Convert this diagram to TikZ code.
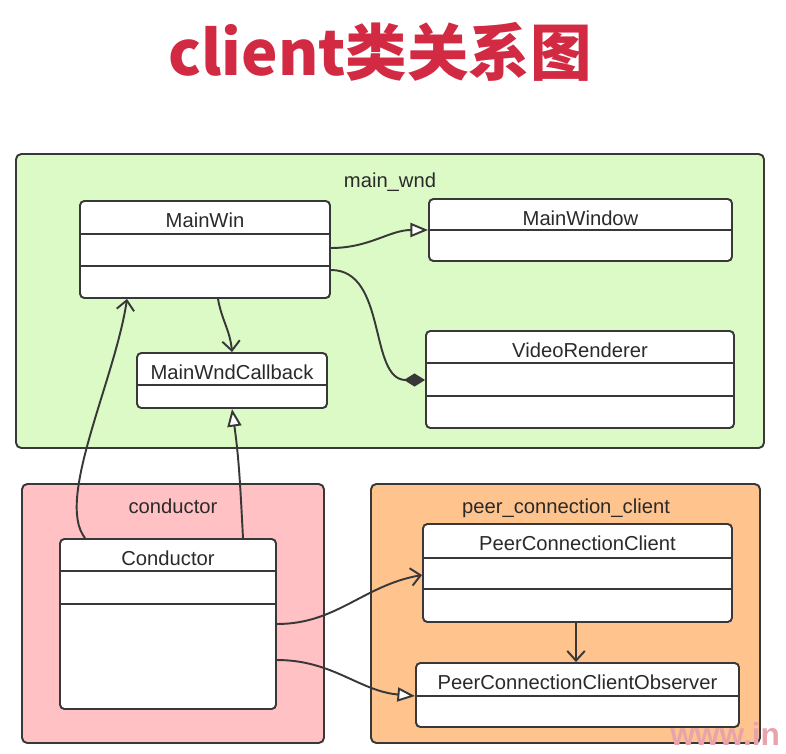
\documentclass[tikz,border=0pt]{standalone}
\usepackage{fontspec}
\setmainfont{Liberation Sans}
\newfontfamily\cjkfont{Noto Sans CJK SC}
\usetikzlibrary{arrows.meta, fit, positioning}

\definecolor{lineGray}{HTML}{383838}
\definecolor{textGray}{HTML}{2A2A2A}
\definecolor{wndGreen}{HTML}{DBFAC6}
\definecolor{condPink}{HTML}{FFC1C4}
\definecolor{peerOrange}{HTML}{FFC38E}
\definecolor{titleRed}{HTML}{D22A42}
\definecolor{markPink}{HTML}{E9A3AC}

\tikzset{
  grpbox/.style={draw=lineGray, line width=1.1pt, rounded corners=3pt, inner sep=0pt},
  classbox/.style={draw=lineGray, fill=white, line width=1.1pt, rounded corners=2.5pt, inner sep=0pt},
  divider/.style={draw=lineGray, line width=1.1pt},
  lbl/.style={text=textGray, anchor=base, inner sep=0pt, font=\fontsize{11.5}{14}\selectfont},
  conn/.style={draw=lineGray, line width=1.1pt},
  realize/.style={conn, -{Triangle[fill=white, length=10pt, width=8pt]}},
  assoc/.style={conn, -{Straight Barb[length=5.5pt, width=10pt]}},
  compose/.style={conn, -{Diamond[length=12pt, width=7.5pt]}},
}

\begin{document}
\begin{tikzpicture}[x=0.02cm, y=-0.02cm]
    \useasboundingbox (0,0) rectangle (786,753);
    \node[text=titleRed, font=\cjkfont\bfseries\fontsize{35}{40}\selectfont] (title) at (380,52) {client类关系图};
    \foreach \nm/\col/\xa/\ya/\xb/\yb in
    {MainWnd/wndGreen/16/154/764/448,
        Conductor/condPink/22/484/324/743,
        PeerClient/peerOrange/371/484/760/743
    }
    {
        \node[grpbox, fill=\col, fit={(\xa,\ya) (\xb,\yb)}] (g\nm) {};
    };
    \node[lbl] (lMainWnd) at (390,187) {main\_wnd};
    \node[lbl] (lConductor) at (173,513) {conductor};
    \node[lbl] (lPeerClient) at (566,513) {peer\_connection\_client};
    \foreach \nm/\xa/\ya/\xb/\yb in
    {MainWin/80/201/330/298,
        MainWindow/429/199/732/261,
        VideoRenderer/426/331/734/428,
        MainWndCallback/137/353/327/408,
        Conductor/60/539/276/709,
        PeerConnectionClient/423/524/732/622,
        PeerConnectionClientObserver/416/663/739/727
    }
    {
        \node[classbox, fit={(\xa,\ya) (\xb,\yb)}] (c\nm) {};
        \node[lbl] (t\nm) at ({(\xa+\xb)/2},\ya+26) {\nm};
    };
    \foreach \nm/\yy in
    {MainWin/234, MainWin/266, MainWindow/230,
        VideoRenderer/363, VideoRenderer/396, MainWndCallback/385,
        Conductor/571, Conductor/604,
        PeerConnectionClient/558, PeerConnectionClient/589,
        PeerConnectionClientObserver/696
    }
    {
        \draw[divider] (c\nm.west |- 0,\yy) -- (c\nm.east |- 0,\yy);
    };
    \draw[realize] (cMainWin.east |- 0,248) to[out=0, in=180] (cMainWindow.west |- 0,230);
    \draw[compose] (cMainWin.east |- 0,270) to[out=0, in=180] (cVideoRenderer.west |- 0,380);
    \draw[assoc] (cMainWin.south -| 218,0) to[out=-80, in=95] (cMainWndCallback.north -| 232,0);
    \draw[assoc] (cConductor.north -| 85,0) .. controls (55,500) and (115,380) .. (cMainWin.south -| 127,0);
    \draw[realize] (cConductor.north -| 243,0) to[out=93, in=-82] (cMainWndCallback.south -| 232,0);
    \draw[assoc] (cConductor.east |- 0,624) to[out=0, in=190] (cPeerConnectionClient.west |- 0,575);
    \draw[realize] (cConductor.east |- 0,660) to[out=0, in=175] (cPeerConnectionClientObserver.west |- 0,696);
    \draw[assoc] (cPeerConnectionClient.south -| 576,0) -- (cPeerConnectionClientObserver.north -| 576,0);
    \node[anchor=base west, text=markPink, inner sep=0pt, font=\bfseries\fontsize{18}{18}\selectfont] (watermark) at (670,745) {www.in};
\end{tikzpicture}
\end{document}
